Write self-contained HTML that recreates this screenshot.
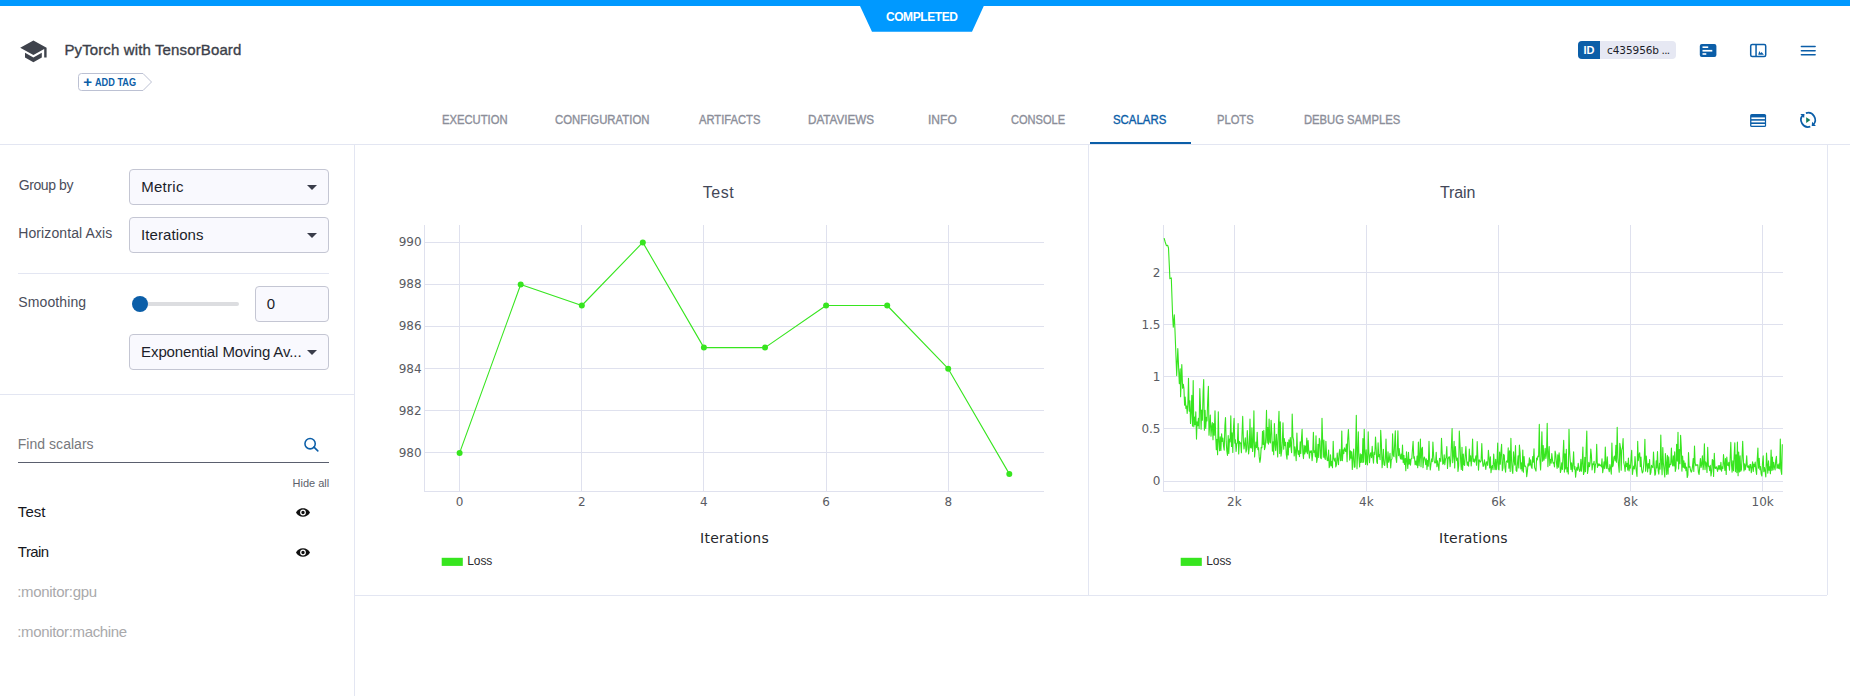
<!DOCTYPE html>
<html lang="en">
<head>
<meta charset="utf-8">
<title>PyTorch with TensorBoard - Scalars</title>
<style>
html,body{margin:0;padding:0;background:#fff;}
body{width:1850px;height:696px;position:relative;overflow:hidden;font-family:"Liberation Sans",Arial,sans-serif;}
.t{position:absolute;white-space:nowrap;line-height:20px;display:block;}
.abs{position:absolute;}
.sel{position:absolute;box-sizing:border-box;border:1px solid #c4c6d3;border-radius:4px;background:#f9f9fe;}
.arrow{position:absolute;width:0;height:0;border-left:5px solid transparent;border-right:5px solid transparent;border-top:5px solid #3a3d4a;}
svg{position:absolute;overflow:visible;}
.m{-webkit-text-stroke:0.35px currentColor;}
</style>
</head>
<body>

<header>
<div class="abs" style="left:0;top:0;width:1850px;height:6px;background:#0099ff"></div>
<svg style="left:0;top:0" width="1850" height="40"><polygon points="859.8,5.5 984,5.5 972,31.8 872,31.8" fill="#0099ff"/></svg>
<span id="t1" class="t" style="left:885.90px;top:6.64px;font-size:12px;color:#fff;font-weight:bold;letter-spacing:-0.416px;">COMPLETED</span>
<svg style="left:19.4px;top:36.65px" width="28.8" height="28.8" viewBox="0 0 24 24"><path fill="#3f434c" d="M5 13.18v4L12 21l7-3.82v-4L12 17l-7-3.82zM12 3L1 9l11 6 9-4.91V17h2V9L12 3z"/></svg>
<span id="t2" class="t m" style="left:64.38px;top:39.70px;font-size:15px;color:#3c3f4a;letter-spacing:0.130px;">PyTorch with TensorBoard</span>
<svg style="left:0;top:0" width="200" height="100"><path d="M81.5,73.5 H143 L151.5,82 L143,90.5 H81.5 Q78.5,90.5 78.5,87.5 V76.5 Q78.5,73.5 81.5,73.5 Z" fill="#fff" stroke="#bcc1d3" stroke-width="1"/></svg>
<span id="t3" class="t" style="left:83.20px;top:72.30px;font-size:15px;color:#0b5ea8;font-weight:bold;">+</span>
<span id="t4" class="t" style="left:95.37px;top:73.23px;font-size:10px;color:#0b5ea8;font-weight:bold;transform-origin:0 50%;transform:scaleX(0.9165);">ADD TAG</span>
<div class="abs" style="left:1578px;top:41px;width:98px;height:18px;border-radius:4px;background:#e6e8f3;overflow:hidden"><div class="abs" style="left:0;top:0;width:22px;height:18px;background:#0b5ea8"></div></div>
<span id="t5" class="t" style="left:1583.50px;top:40.49px;font-size:11px;color:#fff;font-weight:bold;">ID</span>
<span id="t6" class="t" style="left:1607.07px;top:39.66px;font-size:10.5px;color:#1b1d29;font-family:'DejaVu Sans', Verdana, sans-serif;letter-spacing:-0.086px;">c435956b</span>
<span id="t7" class="t" style="left:1661.60px;top:39.66px;font-size:10.5px;color:#1b1d29;font-family:'DejaVu Sans', Verdana, sans-serif;letter-spacing:-0.700px;">...</span>
<svg style="left:0;top:0" width="1850" height="140">
<rect x="1699.8" y="43.9" width="16.6" height="13.2" rx="2" fill="#0b5ea8"/>
<rect x="1702.5" y="46.4" width="5.7" height="1.6" fill="#fff"/>
<rect x="1702.5" y="49.9" width="9.8" height="1.7" fill="#fff"/>
<rect x="1702.5" y="53.2" width="3.8" height="1.6" fill="#fff"/>
<rect x="1750.7" y="44.6" width="15" height="11.8" rx="1.5" fill="none" stroke="#0b5ea8" stroke-width="1.5"/>
<rect x="1755.3" y="44.6" width="1.5" height="11.8" fill="#0b5ea8"/>
<path d="M1758.2,54.8 L1759.3,51 L1760.6,53.2 L1761.6,52 L1763.9,54.8 Z" fill="#0b5ea8"/>
<rect x="1800.6" y="45.7" width="15.3" height="1.6" rx="0.8" fill="#0b5ea8"/>
<rect x="1800.6" y="49.9" width="15.3" height="1.6" rx="0.8" fill="#0b5ea8"/>
<rect x="1800.6" y="54.0" width="15.3" height="1.6" rx="0.8" fill="#0b5ea8"/>
<rect x="1750.1" y="114" width="16" height="13.1" rx="1.6" fill="#0b5ea8"/>
<rect x="1751.4" y="117.4" width="13.5" height="1.7" fill="#fff"/>
<rect x="1751.4" y="120.7" width="13.5" height="1.7" fill="#fff"/>
<rect x="1751.4" y="124.0" width="13.5" height="1.7" fill="#fff"/>
<g fill="none" stroke="#0b5ea8" stroke-width="1.7">
<path d="M1805.9,113.15 A7.1,7.1 0 0 1 1813.0,125.0"/>
<path d="M1810.3,126.65 A7.1,7.1 0 0 1 1803.2,114.8"/>
</g>
<path d="M1800.3,114.0 L1804.5,114.0 L1804.1,118.1 Z" fill="#0b5ea8"/>
<path d="M1815.9,125.9 L1811.7,125.9 L1812.1,121.8 Z" fill="#0b5ea8"/>
<path d="M1806.2,117.2 L1810.4,120 L1806.2,122.9 Z" fill="#117a5c"/>
</svg>
</header>
<nav>
<span id="t8" class="t m tab" style="left:442.00px;top:110.04px;font-size:12px;color:#8b8e99;transform-origin:0 50%;transform:scaleX(0.9361);">EXECUTION</span>
<span id="t9" class="t m tab" style="left:555.25px;top:110.04px;font-size:12px;color:#8b8e99;transform-origin:0 50%;transform:scaleX(0.9463);">CONFIGURATION</span>
<span id="t10" class="t m tab" style="left:698.61px;top:110.04px;font-size:12px;color:#8b8e99;transform-origin:0 50%;transform:scaleX(0.9327);">ARTIFACTS</span>
<span id="t11" class="t m tab" style="left:807.76px;top:110.04px;font-size:12px;color:#8b8e99;transform-origin:0 50%;transform:scaleX(0.9729);">DATAVIEWS</span>
<span id="t12" class="t m tab" style="left:928.33px;top:110.04px;font-size:12px;color:#8b8e99;transform-origin:0 50%;transform:scaleX(1.0025);">INFO</span>
<span id="t13" class="t m tab" style="left:1011.42px;top:110.04px;font-size:12px;color:#8b8e99;transform-origin:0 50%;transform:scaleX(0.9201);">CONSOLE</span>
<span id="t14" class="t m tab" style="left:1113.17px;top:110.04px;font-size:12px;color:#0b5ea8;transform-origin:0 50%;transform:scaleX(0.9512);">SCALARS</span>
<span id="t15" class="t m tab" style="left:1217.00px;top:110.04px;font-size:12px;color:#8b8e99;transform-origin:0 50%;transform:scaleX(0.9313);">PLOTS</span>
<span id="t16" class="t m tab" style="left:1304.00px;top:110.04px;font-size:12px;color:#8b8e99;transform-origin:0 50%;transform:scaleX(0.9371);">DEBUG SAMPLES</span>
</nav>
<div class="frame">
<div class="abs" style="left:0;top:144px;width:1850px;height:1px;background:#e3e6f2"></div>
<div class="abs" style="left:1090px;top:142px;width:101px;height:2px;background:#0b5ea8"></div>
<div class="abs" style="left:354px;top:145px;width:1px;height:551px;background:#e3e6f2"></div>
<div class="abs" style="left:1088px;top:145px;width:1px;height:450px;background:#e3e6f2"></div>
<div class="abs" style="left:1827px;top:145px;width:1px;height:450px;background:#e3e6f2"></div>
<div class="abs" style="left:355px;top:595px;width:1472px;height:1px;background:#e3e6f2"></div>
<div class="abs" style="left:18px;top:273px;width:311px;height:1px;background:#e3e6f2"></div>
<div class="abs" style="left:0;top:394px;width:354px;height:1px;background:#e3e6f2"></div>
</div>
<aside>
<span id="t17" class="t" style="left:18.66px;top:174.85px;font-size:14px;color:#4a4d5a;letter-spacing:-0.391px;">Group by</span>
<span id="t18" class="t" style="left:18.18px;top:222.85px;font-size:14px;color:#4a4d5a;letter-spacing:0.110px;">Horizontal Axis</span>
<span id="t19" class="t" style="left:18.30px;top:292.45px;font-size:14px;color:#4a4d5a;letter-spacing:0.111px;">Smoothing</span>
<div class="sel" style="left:129px;top:169px;width:200px;height:36px"></div>
<div class="arrow" style="left:307px;top:185px"></div>
<div class="sel" style="left:129px;top:217px;width:200px;height:36px"></div>
<div class="arrow" style="left:307px;top:233px"></div>
<div class="sel" style="left:129px;top:334px;width:200px;height:36px"></div>
<div class="arrow" style="left:307px;top:350px"></div>
<span id="t20" class="t" style="left:141.24px;top:176.70px;font-size:15px;color:#1c1e2a;letter-spacing:0.267px;">Metric</span>
<span id="t21" class="t" style="left:141.12px;top:224.70px;font-size:15px;color:#1c1e2a;letter-spacing:0.078px;">Iterations</span>
<span id="t22" class="t" style="left:141.08px;top:341.70px;font-size:15px;color:#1c1e2a;letter-spacing:-0.103px;">Exponential Moving Av...</span>
<div class="sel" style="left:255px;top:286px;width:74px;height:36px"></div>
<span id="t23" class="t" style="left:266.80px;top:293.70px;font-size:15px;color:#1c1e2a;">0</span>
<div class="abs" style="left:140px;top:302px;width:99px;height:4px;border-radius:2px;background:#dcdde0"></div>
<div class="abs" style="left:132px;top:296px;width:16px;height:16px;border-radius:50%;background:#0b5ea8"></div>
<span id="t24" class="t" style="left:17.79px;top:434.15px;font-size:14px;color:#77787c;letter-spacing:0.034px;">Find scalars</span>
<div class="abs" style="left:18px;top:462px;width:311px;height:1px;background:#5a5f6e"></div>
<svg style="left:0;top:0" width="354" height="696"><circle cx="310.1" cy="443.7" r="5.15" fill="none" stroke="#0b5ea8" stroke-width="1.55"/><path d="M314.0,447.1 L317.8,450.9" stroke="#0b5ea8" stroke-width="1.6" stroke-linecap="round"/><g fill="#111"><path d="M303,508.2 C299.8,508.2 297.2,510 296,512.5 C297.2,515 299.8,516.8 303,516.8 C306.2,516.8 308.8,515 310,512.5 C308.8,510 306.2,508.2 303,508.2 Z M303,515.4 A2.9,2.9 0 1 1 303,509.6 A2.9,2.9 0 1 1 303,515.4 Z M303,510.8 A1.7,1.7 0 1 0 303,514.2 A1.7,1.7 0 1 0 303,510.8 Z" fill-rule="evenodd"/><path d="M303,548.2 C299.8,548.2 297.2,550 296,552.5 C297.2,555 299.8,556.8 303,556.8 C306.2,556.8 308.8,555 310,552.5 C308.8,550 306.2,548.2 303,548.2 Z M303,555.4 A2.9,2.9 0 1 1 303,549.6 A2.9,2.9 0 1 1 303,555.4 Z M303,550.8 A1.7,1.7 0 1 0 303,554.2 A1.7,1.7 0 1 0 303,550.8 Z" fill-rule="evenodd"/></g></svg>
<span id="t25" class="t" style="left:292.58px;top:473.19px;font-size:11px;color:#5c5f6b;letter-spacing:-0.026px;">Hide all</span>
<span id="t26" class="t" style="left:17.84px;top:501.60px;font-size:15px;color:#15161c;letter-spacing:0.056px;">Test</span>
<span id="t27" class="t" style="left:17.84px;top:541.50px;font-size:15px;color:#15161c;letter-spacing:-0.559px;">Train</span>
<span id="t28" class="t" style="left:17.25px;top:581.80px;font-size:15px;color:#a9a9ab;letter-spacing:-0.325px;">:monitor:gpu</span>
<span id="t29" class="t" style="left:17.25px;top:621.70px;font-size:15px;color:#a9a9ab;letter-spacing:-0.345px;">:monitor:machine</span>
</aside>
<main>
<svg style="left:0;top:0" width="1850" height="696"><g stroke="#dfe1ee" stroke-width="1" shape-rendering="crispEdges"><line x1="459.5" y1="225" x2="459.5" y2="491.5"/><line x1="581.5" y1="225" x2="581.5" y2="491.5"/><line x1="703.5" y1="225" x2="703.5" y2="491.5"/><line x1="826.5" y1="225" x2="826.5" y2="491.5"/><line x1="948.5" y1="225" x2="948.5" y2="491.5"/><line x1="424.5" y1="452.5" x2="1044" y2="452.5"/><line x1="424.5" y1="410.5" x2="1044" y2="410.5"/><line x1="424.5" y1="368.5" x2="1044" y2="368.5"/><line x1="424.5" y1="326.5" x2="1044" y2="326.5"/><line x1="424.5" y1="284.5" x2="1044" y2="284.5"/><line x1="424.5" y1="242.5" x2="1044" y2="242.5"/><line x1="424.5" y1="225" x2="424.5" y2="491.5"/><line x1="424.5" y1="491.5" x2="1044" y2="491.5"/></g><polyline points="459.6,452.9 520.7,284.5 581.8,305.5 642.8,242.4 703.9,347.6 765.0,347.6 826.1,305.5 887.2,305.5 948.2,368.7 1009.3,473.9" fill="none" stroke="#37e51f" stroke-width="1.1" stroke-linejoin="round"/><circle cx="459.6" cy="452.9" r="3" fill="#37e51f"/><circle cx="520.7" cy="284.5" r="3" fill="#37e51f"/><circle cx="581.8" cy="305.5" r="3" fill="#37e51f"/><circle cx="642.8" cy="242.4" r="3" fill="#37e51f"/><circle cx="703.9" cy="347.6" r="3" fill="#37e51f"/><circle cx="765.0" cy="347.6" r="3" fill="#37e51f"/><circle cx="826.1" cy="305.5" r="3" fill="#37e51f"/><circle cx="887.2" cy="305.5" r="3" fill="#37e51f"/><circle cx="948.2" cy="368.7" r="3" fill="#37e51f"/><circle cx="1009.3" cy="473.9" r="3" fill="#37e51f"/><rect x="441.7" y="557.8" width="21.1" height="8.1" fill="#37e51f"/><rect x="1180.7" y="557.8" width="21.1" height="8.1" fill="#37e51f"/><g stroke="#dfe1ee" stroke-width="1" shape-rendering="crispEdges"><line x1="1234.5" y1="225" x2="1234.5" y2="491.5"/><line x1="1366.5" y1="225" x2="1366.5" y2="491.5"/><line x1="1498.5" y1="225" x2="1498.5" y2="491.5"/><line x1="1630.5" y1="225" x2="1630.5" y2="491.5"/><line x1="1762.5" y1="225" x2="1762.5" y2="491.5"/><line x1="1163.5" y1="481.5" x2="1783" y2="481.5"/><line x1="1163.5" y1="428.5" x2="1783" y2="428.5"/><line x1="1163.5" y1="376.5" x2="1783" y2="376.5"/><line x1="1163.5" y1="324.5" x2="1783" y2="324.5"/><line x1="1163.5" y1="272.5" x2="1783" y2="272.5"/><line x1="1163.5" y1="225" x2="1163.5" y2="491.5"/><line x1="1163.5" y1="491.5" x2="1783" y2="491.5"/></g><polyline points="1164.1,238.1 1165.2,242.0 1166.4,245.7 1167.6,245.2 1168.5,248.0 1169.9,278.6 1171.3,277.9 1172.6,315.8 1173.3,327.3 1174.3,314.7 1174.9,328.4 1176.7,375.6 1177.8,348.5 1179.3,383.6 1180.2,368.7 1180.6,396.8 1181.8,364.5 1182.6,388.3 1183.3,384.2 1183.9,388.0 1184.6,405.2 1185.2,397.0 1185.9,408.4 1186.6,406.1 1187.2,413.5 1187.9,403.3 1188.5,378.3 1189.2,411.1 1189.9,400.7 1190.5,423.5 1191.2,411.0 1191.8,395.3 1192.5,426.1 1193.2,380.5 1193.8,426.8 1194.5,417.0 1195.1,424.7 1195.8,411.9 1196.5,439.1 1197.1,421.8 1197.8,425.8 1198.4,418.2 1199.1,428.4 1199.8,388.6 1200.4,404.4 1201.1,429.3 1201.7,410.1 1202.4,420.3 1203.1,392.6 1203.7,379.6 1204.4,430.2 1205.1,410.3 1205.7,428.4 1206.4,417.3 1207.0,420.9 1207.7,400.5 1208.4,386.3 1209.0,435.3 1209.7,425.3 1210.3,415.0 1211.0,436.2 1211.7,426.7 1212.3,422.6 1213.0,439.7 1213.6,423.5 1214.3,435.3 1215.0,410.8 1215.6,433.7 1216.3,449.8 1216.9,439.2 1217.6,454.7 1218.3,411.7 1218.9,440.7 1219.6,450.7 1220.2,436.7 1220.9,450.4 1221.6,433.8 1222.2,441.4 1222.9,438.1 1223.5,445.8 1224.2,450.2 1224.9,425.7 1225.5,417.5 1226.2,441.4 1226.8,451.0 1227.5,455.4 1228.2,435.6 1228.8,453.5 1229.5,439.0 1230.1,441.9 1230.8,415.7 1231.5,446.4 1232.1,432.9 1232.8,452.5 1233.5,428.1 1234.1,418.4 1234.8,443.1 1235.4,439.7 1236.1,451.4 1236.8,443.5 1237.4,443.0 1238.1,423.5 1238.7,454.0 1239.4,441.3 1240.1,443.5 1240.7,442.8 1241.4,452.7 1242.0,434.9 1242.7,416.4 1243.4,440.7 1244.0,448.9 1244.7,443.6 1245.3,437.9 1246.0,452.1 1246.7,449.3 1247.3,430.6 1248.0,442.9 1248.6,454.0 1249.3,447.7 1250.0,419.1 1250.6,447.8 1251.3,448.0 1251.9,427.7 1252.6,451.5 1253.3,441.5 1253.9,410.8 1254.6,456.9 1255.2,449.5 1255.9,442.1 1256.6,447.7 1257.2,432.3 1257.9,449.6 1258.6,447.7 1259.2,456.9 1259.9,462.5 1260.5,458.6 1261.2,447.4 1261.9,447.8 1262.5,431.3 1263.2,444.4 1263.8,430.4 1264.5,449.6 1265.2,446.9 1265.8,437.6 1266.5,410.4 1267.1,443.0 1267.8,427.5 1268.5,444.1 1269.1,419.1 1269.8,442.0 1270.4,442.9 1271.1,420.2 1271.8,433.8 1272.4,451.3 1273.1,441.9 1273.7,454.7 1274.4,423.5 1275.1,444.9 1275.7,450.6 1276.4,434.4 1277.0,443.8 1277.7,456.9 1278.4,426.0 1279.0,411.3 1279.7,453.5 1280.3,421.8 1281.0,456.3 1281.7,450.9 1282.3,442.4 1283.0,422.8 1283.7,449.3 1284.3,438.6 1285.0,445.6 1285.6,442.2 1286.3,454.4 1287.0,459.2 1287.6,442.4 1288.3,454.9 1288.9,439.8 1289.6,447.3 1290.3,437.6 1290.9,446.8 1291.6,452.6 1292.2,414.1 1292.9,436.8 1293.6,440.2 1294.2,455.9 1294.9,446.9 1295.5,451.4 1296.2,460.6 1296.9,433.0 1297.5,449.6 1298.2,454.5 1298.8,450.7 1299.5,456.6 1300.2,441.9 1300.8,453.5 1301.5,438.3 1302.1,429.2 1302.8,452.4 1303.5,458.6 1304.1,445.3 1304.8,454.0 1305.4,446.1 1306.1,452.1 1306.8,438.1 1307.4,453.7 1308.1,440.6 1308.7,450.4 1309.4,458.3 1310.1,450.9 1310.7,452.5 1311.4,450.8 1312.1,460.6 1312.7,454.1 1313.4,432.2 1314.0,452.4 1314.7,450.7 1315.4,457.0 1316.0,435.7 1316.7,462.4 1317.3,458.9 1318.0,444.3 1318.7,457.4 1319.3,438.3 1320.0,441.2 1320.6,457.8 1321.3,458.6 1322.0,418.2 1322.6,439.1 1323.3,457.3 1323.9,440.0 1324.6,457.4 1325.3,459.4 1325.9,441.3 1326.6,455.2 1327.2,460.4 1327.9,460.6 1328.6,450.0 1329.2,467.7 1329.9,465.5 1330.5,454.7 1331.2,466.0 1331.9,461.3 1332.5,467.7 1333.2,441.3 1333.8,458.7 1334.5,461.0 1335.2,458.0 1335.8,466.9 1336.5,464.9 1337.2,453.1 1337.8,459.5 1338.5,464.7 1339.1,453.3 1339.8,449.4 1340.5,460.8 1341.1,460.6 1341.8,431.0 1342.4,460.6 1343.1,449.7 1343.8,453.7 1344.4,447.8 1345.1,450.2 1345.7,451.6 1346.4,444.0 1347.1,461.7 1347.7,439.2 1348.4,429.5 1349.0,441.9 1349.7,460.1 1350.4,450.8 1351.0,458.2 1351.7,451.5 1352.3,469.5 1353.0,458.0 1353.7,449.1 1354.3,467.3 1355.0,466.9 1355.6,450.3 1356.3,415.2 1357.0,468.7 1357.6,454.4 1358.3,431.8 1358.9,457.0 1359.6,466.9 1360.3,453.7 1360.9,462.4 1361.6,454.5 1362.2,462.4 1362.9,438.5 1363.6,462.3 1364.2,429.2 1364.9,452.1 1365.6,464.5 1366.2,449.8 1366.9,462.1 1367.5,465.0 1368.2,431.8 1368.9,454.5 1369.5,462.6 1370.2,454.5 1370.8,452.7 1371.5,457.7 1372.2,446.3 1372.8,456.4 1373.5,463.2 1374.1,452.2 1374.8,454.5 1375.5,437.0 1376.1,447.4 1376.8,462.1 1377.4,463.5 1378.1,442.9 1378.8,456.8 1379.4,454.5 1380.1,459.8 1380.7,430.3 1381.4,444.1 1382.1,467.7 1382.7,460.7 1383.4,449.3 1384.0,464.5 1384.7,465.5 1385.4,458.2 1386.0,439.0 1386.7,461.8 1387.3,467.7 1388.0,451.8 1388.7,462.3 1389.3,459.3 1390.0,453.2 1390.7,468.0 1391.3,460.0 1392.0,458.7 1392.6,433.7 1393.3,455.3 1394.0,456.8 1394.6,444.8 1395.3,430.7 1395.9,457.2 1396.6,462.4 1397.3,448.6 1397.9,430.7 1398.6,455.8 1399.2,448.6 1399.9,455.8 1400.6,458.9 1401.2,454.0 1401.9,459.4 1402.5,445.0 1403.2,462.6 1403.9,455.4 1404.5,464.5 1405.2,458.5 1405.8,470.7 1406.5,451.7 1407.2,461.3 1407.8,468.4 1408.5,452.2 1409.1,464.2 1409.8,459.2 1410.5,465.1 1411.1,458.9 1411.8,458.8 1412.4,450.4 1413.1,441.3 1413.8,458.2 1414.4,456.7 1415.1,464.7 1415.8,461.1 1416.4,465.2 1417.1,456.0 1417.7,467.7 1418.4,442.0 1419.1,465.6 1419.7,457.2 1420.4,439.0 1421.0,466.7 1421.7,449.0 1422.4,447.3 1423.0,467.7 1423.7,459.5 1424.3,457.0 1425.0,459.2 1425.7,464.8 1426.3,458.7 1427.0,469.5 1427.6,460.3 1428.3,466.3 1429.0,441.3 1429.6,459.7 1430.3,470.0 1430.9,464.7 1431.6,458.7 1432.3,461.7 1432.9,442.0 1433.6,455.2 1434.2,461.1 1434.9,463.0 1435.6,462.8 1436.2,452.4 1436.9,466.7 1437.5,460.9 1438.2,465.0 1438.9,470.4 1439.5,458.4 1440.2,459.3 1440.8,461.6 1441.5,438.3 1442.2,453.5 1442.8,464.2 1443.5,463.3 1444.2,454.7 1444.8,464.7 1445.5,459.2 1446.1,457.4 1446.8,446.6 1447.5,468.4 1448.1,459.2 1448.8,456.9 1449.4,456.7 1450.1,466.6 1450.8,460.1 1451.4,445.4 1452.1,428.5 1452.7,462.7 1453.4,455.5 1454.1,441.3 1454.7,467.9 1455.4,446.6 1456.0,455.3 1456.7,460.8 1457.4,458.0 1458.0,471.4 1458.7,465.5 1459.3,431.0 1460.0,444.4 1460.7,461.6 1461.3,469.4 1462.0,447.3 1462.6,470.4 1463.3,454.0 1464.0,464.6 1464.6,465.4 1465.3,454.4 1465.9,446.6 1466.6,460.4 1467.3,465.3 1467.9,462.1 1468.6,466.2 1469.3,449.1 1469.9,461.1 1470.6,455.7 1471.2,466.0 1471.9,457.7 1472.6,439.0 1473.2,461.6 1473.9,459.0 1474.5,462.2 1475.2,459.6 1475.9,455.9 1476.5,465.2 1477.2,441.6 1477.8,455.6 1478.5,470.2 1479.2,459.8 1479.8,461.3 1480.5,462.0 1481.1,460.5 1481.8,443.5 1482.5,461.6 1483.1,466.5 1483.8,465.2 1484.4,459.8 1485.1,464.2 1485.8,469.5 1486.4,462.1 1487.1,461.9 1487.7,465.5 1488.4,450.3 1489.1,458.4 1489.7,467.9 1490.4,456.8 1491.0,472.7 1491.7,466.8 1492.4,465.6 1493.0,469.7 1493.7,454.1 1494.3,463.2 1495.0,469.6 1495.7,459.2 1496.3,469.7 1497.0,462.3 1497.7,443.1 1498.3,469.2 1499.0,469.8 1499.6,452.0 1500.3,464.2 1501.0,451.5 1501.6,444.3 1502.3,470.7 1502.9,468.4 1503.6,454.3 1504.3,455.6 1504.9,467.5 1505.6,472.2 1506.2,461.8 1506.9,460.8 1507.6,462.3 1508.2,447.9 1508.9,468.2 1509.5,450.9 1510.2,471.5 1510.9,438.3 1511.5,459.8 1512.2,470.4 1512.8,473.4 1513.5,451.7 1514.2,460.6 1514.8,465.1 1515.5,445.5 1516.1,470.5 1516.8,471.4 1517.5,463.3 1518.1,455.8 1518.8,468.0 1519.4,445.0 1520.1,452.7 1520.8,468.9 1521.4,462.8 1522.1,471.0 1522.8,450.0 1523.4,472.2 1524.1,456.5 1524.7,466.2 1525.4,466.1 1526.1,467.6 1526.7,476.7 1527.4,471.4 1528.0,463.8 1528.7,465.9 1529.4,457.9 1530.0,465.3 1530.7,459.7 1531.3,466.8 1532.0,468.4 1532.7,456.5 1533.3,462.1 1534.0,448.8 1534.6,467.4 1535.3,469.2 1536.0,471.1 1536.6,458.0 1537.3,459.9 1537.9,456.1 1538.6,456.6 1539.3,424.4 1539.9,459.7 1540.6,469.9 1541.2,456.0 1541.9,431.8 1542.6,461.3 1543.2,445.6 1543.9,460.3 1544.5,457.7 1545.2,448.3 1545.9,458.4 1546.5,453.4 1547.2,423.2 1547.9,466.6 1548.5,455.4 1549.2,446.6 1549.8,465.5 1550.5,459.2 1551.2,463.1 1551.8,453.5 1552.5,460.1 1553.1,463.2 1553.8,462.7 1554.5,467.0 1555.1,451.1 1555.8,454.7 1556.4,462.3 1557.1,468.4 1557.8,454.7 1558.4,467.3 1559.1,452.7 1559.7,458.2 1560.4,472.5 1561.1,469.7 1561.7,462.9 1562.4,469.5 1563.0,455.9 1563.7,440.2 1564.4,472.1 1565.0,453.7 1565.7,469.0 1566.3,449.4 1567.0,471.9 1567.7,467.8 1568.3,474.0 1569.0,429.2 1569.6,451.4 1570.3,461.4 1571.0,469.5 1571.6,462.7 1572.3,471.8 1572.9,465.2 1573.6,451.8 1574.3,469.1 1574.9,466.6 1575.6,477.2 1576.3,469.8 1576.9,467.4 1577.6,470.3 1578.2,463.4 1578.9,468.2 1579.6,471.4 1580.2,470.8 1580.9,459.4 1581.5,471.3 1582.2,463.0 1582.9,447.0 1583.5,474.5 1584.2,471.9 1584.8,457.4 1585.5,471.6 1586.2,447.6 1586.8,431.0 1587.5,473.4 1588.1,469.6 1588.8,462.3 1589.5,466.7 1590.1,463.5 1590.8,449.1 1591.4,455.1 1592.1,469.9 1592.8,463.9 1593.4,464.5 1594.1,461.2 1594.7,472.7 1595.4,464.9 1596.1,462.9 1596.7,444.4 1597.4,467.4 1598.0,463.6 1598.7,465.8 1599.4,464.0 1600.0,465.6 1600.7,465.0 1601.4,466.9 1602.0,458.7 1602.7,472.7 1603.3,468.5 1604.0,461.8 1604.7,468.6 1605.3,447.0 1606.0,464.9 1606.6,468.5 1607.3,456.8 1608.0,468.8 1608.6,468.7 1609.3,471.8 1609.9,464.5 1610.6,468.5 1611.3,474.2 1611.9,443.1 1612.6,466.8 1613.2,465.2 1613.9,457.1 1614.6,456.2 1615.2,460.9 1615.9,445.3 1616.5,462.3 1617.2,427.3 1617.9,457.6 1618.5,465.0 1619.2,472.2 1619.8,443.3 1620.5,447.8 1621.2,470.2 1621.8,450.1 1622.5,447.5 1623.1,438.6 1623.8,462.7 1624.5,465.8 1625.1,471.4 1625.8,461.6 1626.4,466.7 1627.1,463.4 1627.8,470.3 1628.4,458.0 1629.1,471.0 1629.8,465.1 1630.4,468.2 1631.1,457.5 1631.7,450.3 1632.4,474.5 1633.1,469.3 1633.7,466.1 1634.4,469.0 1635.0,456.6 1635.7,465.6 1636.4,471.6 1637.0,476.4 1637.7,441.3 1638.3,460.8 1639.0,454.8 1639.7,452.8 1640.3,466.8 1641.0,457.1 1641.6,469.3 1642.3,473.0 1643.0,471.8 1643.6,466.0 1644.3,457.7 1644.9,439.3 1645.6,471.3 1646.3,456.1 1646.9,463.9 1647.6,472.0 1648.2,463.5 1648.9,468.1 1649.6,459.5 1650.2,474.5 1650.9,472.5 1651.5,465.4 1652.2,466.7 1652.9,467.7 1653.5,452.1 1654.2,465.2 1654.9,475.2 1655.5,473.9 1656.2,460.9 1656.8,467.9 1657.5,451.6 1658.2,470.9 1658.8,474.2 1659.5,463.2 1660.1,469.1 1660.8,435.0 1661.5,463.0 1662.1,474.6 1662.8,447.5 1663.4,463.4 1664.1,469.9 1664.8,477.0 1665.4,453.5 1666.1,463.2 1666.7,474.4 1667.4,455.4 1668.1,474.1 1668.7,456.9 1669.4,467.1 1670.0,464.4 1670.7,464.4 1671.4,448.1 1672.0,462.8 1672.7,466.0 1673.3,455.7 1674.0,466.0 1674.7,451.9 1675.3,471.4 1676.0,468.0 1676.6,444.3 1677.3,461.1 1678.0,432.2 1678.6,468.9 1679.3,449.6 1680.0,463.8 1680.6,435.2 1681.3,447.9 1681.9,471.1 1682.6,456.1 1683.3,467.5 1683.9,460.9 1684.6,468.3 1685.2,463.1 1685.9,470.7 1686.6,467.1 1687.2,477.5 1687.9,475.2 1688.5,452.6 1689.2,467.3 1689.9,466.7 1690.5,470.0 1691.2,472.2 1691.8,471.1 1692.5,466.6 1693.2,458.6 1693.8,471.4 1694.5,446.1 1695.1,462.5 1695.8,465.8 1696.5,464.8 1697.1,465.2 1697.8,464.8 1698.4,472.4 1699.1,474.5 1699.8,465.9 1700.4,458.6 1701.1,467.4 1701.7,464.3 1702.4,455.9 1703.1,469.7 1703.7,464.1 1704.4,443.8 1705.0,469.6 1705.7,461.8 1706.4,464.0 1707.0,472.5 1707.7,447.3 1708.4,466.3 1709.0,466.2 1709.7,470.7 1710.3,465.4 1711.0,476.0 1711.7,471.1 1712.3,459.5 1713.0,460.6 1713.6,476.4 1714.3,453.3 1715.0,468.1 1715.6,468.5 1716.3,466.8 1716.9,468.5 1717.6,471.4 1718.3,465.5 1718.9,469.1 1719.6,465.5 1720.2,469.9 1720.9,462.2 1721.6,471.2 1722.2,466.9 1722.9,468.5 1723.5,454.6 1724.2,463.3 1724.9,470.5 1725.5,458.6 1726.2,474.5 1726.8,457.1 1727.5,465.1 1728.2,465.7 1728.8,462.4 1729.5,470.2 1730.1,459.1 1730.8,442.3 1731.5,464.6 1732.1,472.2 1732.8,460.9 1733.5,470.7 1734.1,456.7 1734.8,442.8 1735.4,471.6 1736.1,454.7 1736.8,472.6 1737.4,442.0 1738.1,475.7 1738.7,452.1 1739.4,471.9 1740.1,455.7 1740.7,471.2 1741.4,469.8 1742.0,458.0 1742.7,441.3 1743.4,460.9 1744.0,471.0 1744.7,463.9 1745.3,469.7 1746.0,465.7 1746.7,455.7 1747.3,466.2 1748.0,467.4 1748.6,465.8 1749.3,470.7 1750.0,464.6 1750.6,464.4 1751.3,472.7 1751.9,467.8 1752.6,461.8 1753.3,471.5 1753.9,464.1 1754.6,466.6 1755.2,462.1 1755.9,470.2 1756.6,474.5 1757.2,459.5 1757.9,448.1 1758.5,468.1 1759.2,458.4 1759.9,469.8 1760.5,466.5 1761.2,474.1 1761.9,476.0 1762.5,462.8 1763.2,455.9 1763.8,471.7 1764.5,467.5 1765.2,471.8 1765.8,477.0 1766.5,453.0 1767.1,463.1 1767.8,473.3 1768.5,460.7 1769.1,470.3 1769.8,466.7 1770.4,473.7 1771.1,450.0 1771.8,470.6 1772.4,457.1 1773.1,470.0 1773.7,462.4 1774.4,467.1 1775.1,469.9 1775.7,460.7 1776.4,456.4 1777.0,468.3 1777.7,464.7 1778.4,468.5 1779.0,463.8 1779.7,468.9 1780.3,439.0 1781.0,470.3 1781.7,474.5 1782.3,444.3" fill="none" stroke="#37e51f" stroke-width="1.1" stroke-linejoin="round"/></svg>
<span id="t30" class="t" style="left:421.60px;top:442.74px;font-size:12px;color:#595b62;font-family:'DejaVu Sans', Verdana, sans-serif;transform:translateX(-100%);">980</span>
<span id="t31" class="t" style="left:421.60px;top:400.64px;font-size:12px;color:#595b62;font-family:'DejaVu Sans', Verdana, sans-serif;transform:translateX(-100%);">982</span>
<span id="t32" class="t" style="left:421.60px;top:358.54px;font-size:12px;color:#595b62;font-family:'DejaVu Sans', Verdana, sans-serif;transform:translateX(-100%);">984</span>
<span id="t33" class="t" style="left:421.60px;top:316.44px;font-size:12px;color:#595b62;font-family:'DejaVu Sans', Verdana, sans-serif;transform:translateX(-100%);">986</span>
<span id="t34" class="t" style="left:421.60px;top:274.34px;font-size:12px;color:#595b62;font-family:'DejaVu Sans', Verdana, sans-serif;transform:translateX(-100%);">988</span>
<span id="t35" class="t" style="left:421.60px;top:232.24px;font-size:12px;color:#595b62;font-family:'DejaVu Sans', Verdana, sans-serif;transform:translateX(-100%);">990</span>
<span id="t36" class="t" style="left:459.60px;top:491.94px;font-size:12px;color:#595b62;font-family:'DejaVu Sans', Verdana, sans-serif;transform:translateX(-50%);">0</span>
<span id="t37" class="t" style="left:581.76px;top:491.94px;font-size:12px;color:#595b62;font-family:'DejaVu Sans', Verdana, sans-serif;transform:translateX(-50%);">2</span>
<span id="t38" class="t" style="left:703.92px;top:491.94px;font-size:12px;color:#595b62;font-family:'DejaVu Sans', Verdana, sans-serif;transform:translateX(-50%);">4</span>
<span id="t39" class="t" style="left:826.08px;top:491.94px;font-size:12px;color:#595b62;font-family:'DejaVu Sans', Verdana, sans-serif;transform:translateX(-50%);">6</span>
<span id="t40" class="t" style="left:948.24px;top:491.94px;font-size:12px;color:#595b62;font-family:'DejaVu Sans', Verdana, sans-serif;transform:translateX(-50%);">8</span>
<span id="t41" class="t" style="left:1160.50px;top:471.24px;font-size:12px;color:#595b62;font-family:'DejaVu Sans', Verdana, sans-serif;transform:translateX(-100%);">0</span>
<span id="t42" class="t" style="left:1160.50px;top:419.14px;font-size:12px;color:#595b62;font-family:'DejaVu Sans', Verdana, sans-serif;transform:translateX(-100%);">0.5</span>
<span id="t43" class="t" style="left:1160.50px;top:367.04px;font-size:12px;color:#595b62;font-family:'DejaVu Sans', Verdana, sans-serif;transform:translateX(-100%);">1</span>
<span id="t44" class="t" style="left:1160.50px;top:314.94px;font-size:12px;color:#595b62;font-family:'DejaVu Sans', Verdana, sans-serif;transform:translateX(-100%);">1.5</span>
<span id="t45" class="t" style="left:1160.50px;top:262.84px;font-size:12px;color:#595b62;font-family:'DejaVu Sans', Verdana, sans-serif;transform:translateX(-100%);">2</span>
<span id="t46" class="t" style="left:1234.30px;top:491.94px;font-size:12px;color:#595b62;font-family:'DejaVu Sans', Verdana, sans-serif;transform:translateX(-50%);">2k</span>
<span id="t47" class="t" style="left:1366.40px;top:491.94px;font-size:12px;color:#595b62;font-family:'DejaVu Sans', Verdana, sans-serif;transform:translateX(-50%);">4k</span>
<span id="t48" class="t" style="left:1498.50px;top:491.94px;font-size:12px;color:#595b62;font-family:'DejaVu Sans', Verdana, sans-serif;transform:translateX(-50%);">6k</span>
<span id="t49" class="t" style="left:1630.60px;top:491.94px;font-size:12px;color:#595b62;font-family:'DejaVu Sans', Verdana, sans-serif;transform:translateX(-50%);">8k</span>
<span id="t50" class="t" style="left:1762.70px;top:491.94px;font-size:12px;color:#595b62;font-family:'DejaVu Sans', Verdana, sans-serif;transform:translateX(-50%);">10k</span>
<span id="t51" class="t" style="left:718.47px;top:183.06px;font-size:16px;color:#434758;letter-spacing:0.491px;transform:translateX(-50%);">Test</span>
<span id="t52" class="t" style="left:1457.64px;top:183.06px;font-size:16px;color:#434758;letter-spacing:-0.125px;transform:translateX(-50%);">Train</span>
<span id="t53" class="t" style="left:734.55px;top:528.05px;font-size:14px;color:#26272b;font-family:'DejaVu Sans', Verdana, sans-serif;letter-spacing:0.219px;transform:translateX(-50%);">Iterations</span>
<span id="t54" class="t" style="left:1473.40px;top:528.05px;font-size:14px;color:#26272b;font-family:'DejaVu Sans', Verdana, sans-serif;letter-spacing:0.198px;transform:translateX(-50%);">Iterations</span>
<span id="t55" class="t" style="left:467.34px;top:550.84px;font-size:12px;color:#2a2a2e;letter-spacing:-0.141px;">Loss</span>
<span id="t56" class="t" style="left:1206.34px;top:550.84px;font-size:12px;color:#2a2a2e;letter-spacing:-0.141px;">Loss</span>
</main>
</body>
</html>
